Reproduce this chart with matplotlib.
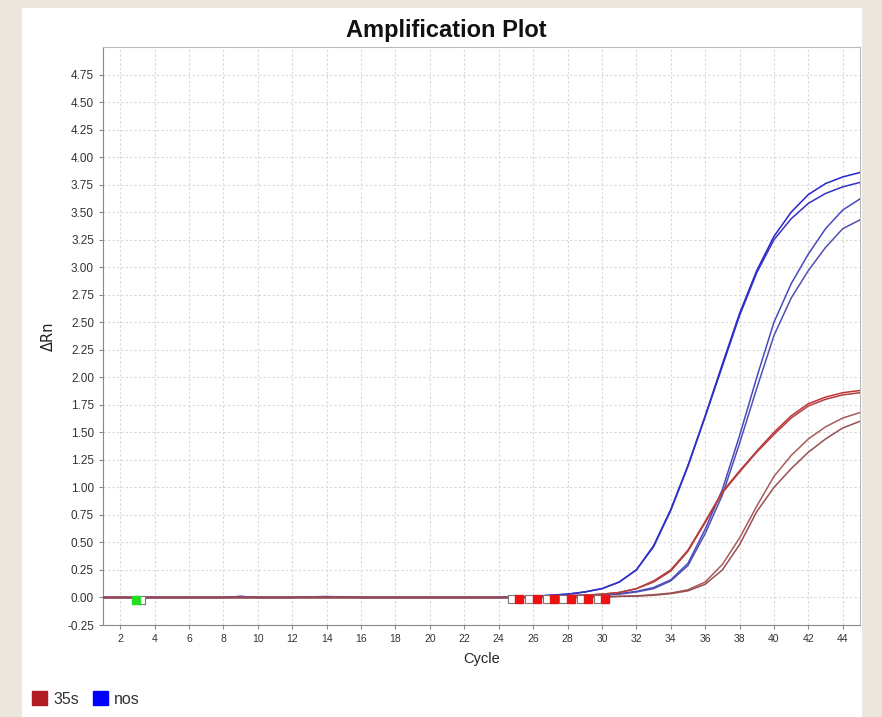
import matplotlib.pyplot as plt
from matplotlib.patches import Rectangle, Patch

plt.rcParams['font.family'] = ['Liberation Sans', 'DejaVu Sans']

# cycle numbers 1..45
cycles = list(range(1, 46))

# nos (blue) curves, delta Rn per cycle
nos_1 = [0.0, 0.0, 0.0, 0.0, 0.0, 0.0, 0.0, 0.0, 0.01, 0.0,
         0.0, 0.0, 0.006, 0.008, 0.006, 0.0, 0.0, 0.0, 0.0, 0.0,
         0.0, 0.0, 0.0, 0.0, 0.005, 0.01, 0.02, 0.03, 0.05, 0.08,
         0.14, 0.25, 0.47, 0.8, 1.2, 1.65, 2.12, 2.58, 2.97, 3.28,
         3.5, 3.66, 3.76, 3.82, 3.86]
nos_2 = [0.0, 0.0, 0.0, 0.0, 0.0, 0.0, 0.0, 0.0, 0.008, 0.0,
         0.0, 0.0, 0.005, 0.007, 0.005, 0.0, 0.0, 0.0, 0.0, 0.0,
         0.0, 0.0, 0.0, 0.0, 0.005, 0.01, 0.02, 0.03, 0.05, 0.08,
         0.14, 0.25, 0.46, 0.79, 1.19, 1.64, 2.1, 2.56, 2.95, 3.25,
         3.44, 3.58, 3.67, 3.73, 3.77]
nos_3 = [0.0, 0.0, 0.0, 0.0, 0.0, 0.0, 0.0, 0.0, 0.0, 0.0,
         0.0, 0.0, 0.0, 0.0, 0.0, 0.0, 0.0, 0.0, 0.0, 0.0,
         0.0, 0.0, 0.0, 0.0, 0.0, 0.005, 0.01, 0.015, 0.02, 0.02,
         0.035, 0.055, 0.09, 0.16, 0.31, 0.62, 0.98, 1.47, 2.0, 2.5,
         2.85, 3.12, 3.35, 3.52, 3.62]
nos_4 = [0.0, 0.0, 0.0, 0.0, 0.0, 0.0, 0.0, 0.0, 0.0, 0.0,
         0.0, 0.0, 0.0, 0.0, 0.0, 0.0, 0.0, 0.0, 0.0, 0.0,
         0.0, 0.0, 0.0, 0.0, 0.0, 0.005, 0.01, 0.015, 0.02, 0.02,
         0.03, 0.05, 0.08, 0.15, 0.29, 0.58, 0.93, 1.4, 1.9, 2.38,
         2.72, 2.97, 3.18, 3.35, 3.43]

# 35s (red) curves
s35_1 = [0.0, 0.0, 0.0, 0.0, 0.0, 0.0, 0.0, 0.0, 0.0, 0.0,
         0.0, 0.0, 0.0, 0.0, 0.0, 0.0, 0.0, 0.0, 0.0, 0.0,
         0.0, 0.0, 0.0, 0.0, 0.0, 0.005, 0.01, 0.015, 0.02, 0.03,
         0.045, 0.08, 0.15, 0.25, 0.43, 0.69, 0.96, 1.15, 1.33, 1.5,
         1.65, 1.76, 1.82, 1.86, 1.88]
s35_2 = [0.0, 0.0, 0.0, 0.0, 0.0, 0.0, 0.0, 0.0, 0.0, 0.0,
         0.0, 0.0, 0.0, 0.0, 0.0, 0.0, 0.0, 0.0, 0.0, 0.0,
         0.0, 0.0, 0.0, 0.0, 0.0, 0.005, 0.01, 0.015, 0.02, 0.03,
         0.045, 0.08, 0.14, 0.24, 0.42, 0.68, 0.95, 1.14, 1.32, 1.48,
         1.63, 1.74, 1.8, 1.84, 1.86]
s35_3 = [0.0, 0.0, 0.0, 0.0, 0.0, 0.0, 0.0, 0.0, 0.0, 0.0,
         0.0, 0.0, 0.0, 0.0, 0.0, 0.0, 0.0, 0.0, 0.0, 0.0,
         0.0, 0.0, 0.0, 0.0, 0.0, 0.0, 0.0, 0.0, 0.0, 0.005,
         0.01, 0.015, 0.025, 0.04, 0.07, 0.14, 0.3, 0.54, 0.83, 1.1,
         1.29, 1.44, 1.55, 1.63, 1.68]
s35_4 = [0.0, 0.0, 0.0, 0.0, 0.0, 0.0, 0.0, 0.0, 0.0, 0.0,
         0.0, 0.0, 0.0, 0.0, 0.0, 0.0, 0.0, 0.0, 0.0, 0.0,
         0.0, 0.0, 0.0, 0.0, 0.0, 0.0, 0.0, 0.0, 0.0, 0.005,
         0.01, 0.012, 0.02, 0.035, 0.06, 0.12, 0.25, 0.48, 0.78, 1.0,
         1.17, 1.32, 1.44, 1.54, 1.6]

nos_curves = [nos_1, nos_2, nos_3, nos_4]
nos_colors = ['#2626cc', '#3232c6', '#4848c0', '#5050b4']
s35_curves = [s35_1, s35_2, s35_3, s35_4]
s35_colors = ['#c03434', '#b04040', '#a85a5a', '#965050']

# baseline start/end markers
green_x = [2.9]
start_white_x = [3.2]
red_x = [25.2, 26.2, 27.2, 28.2, 29.2, 30.2]
white_x = [24.8, 25.75, 26.8, 27.75, 28.8, 29.8]

fig = plt.figure(figsize=(8.82, 7.17), dpi=100, facecolor='#ebe7df')
fig.patches.append(Rectangle((22 / 882, 0), 840 / 882, 709 / 717,
                             transform=fig.transFigure, facecolor='white',
                             edgecolor='none', zorder=-10))

ax = fig.add_axes([103 / 882, 1 - 625 / 717, 757 / 882, 578 / 717])
ax.set_zorder(1)

for vals, c in zip(nos_curves, nos_colors):
    ax.plot(cycles, vals, color=c, lw=1.1, zorder=3)
for vals, c in zip(s35_curves, s35_colors):
    ax.plot(cycles, vals, color=c, lw=1.1, zorder=4)

ax.scatter(white_x, [-0.015] * len(white_x), marker='s', s=30,
           facecolor='white', edgecolor='#777777', lw=0.8, zorder=5)
ax.scatter(red_x, [-0.015] * len(red_x), marker='s', s=38,
           color='#ee1111', zorder=6)
ax.scatter(start_white_x, [-0.02], marker='s', s=30,
           facecolor='white', edgecolor='#777777', lw=0.8, zorder=5)
ax.scatter(green_x, [-0.02], marker='s', s=38, color='#22dd22', zorder=6)

ax.set_xlim(1, 45)
ax.set_ylim(-0.25, 5.0)
ax.set_xticks(range(2, 45, 2))
yt = [i * 0.25 for i in range(-1, 20)]
ax.set_yticks(yt)
ax.set_yticklabels([f'{v:.2f}' for v in yt])

ax.grid(True, color='#d8d8d8', lw=0.8, ls=(0, (2, 2)))
ax.set_axisbelow(True)
for sp in ax.spines.values():
    sp.set_color('#b8b8b8')
ax.spines['bottom'].set_color('#888888')
ax.spines['left'].set_color('#888888')
ax.tick_params(axis='both', colors='#888888', labelcolor='#333333',
               length=3, width=0.8)
ax.tick_params(axis='y', labelsize=8.5)
ax.tick_params(axis='x', labelsize=7.5)

ax.set_xlabel('Cycle', fontsize=10.5, color='#222222', labelpad=6)
ax.set_ylabel('ΔRn', fontsize=10.5, color='#222222', labelpad=8,
              family=['DejaVu Sans'])

fig.text(446 / 882, 1 - 30 / 717, 'Amplification Plot', ha='center',
         va='center', fontsize=17, fontweight='bold', color='#111111')

handles = [Patch(facecolor='#b01c22', edgecolor='#b01c22', label='35s'),
           Patch(facecolor='#0000ff', edgecolor='#0000ff', label='nos')]
fig.legend(handles=handles, loc='center left', ncol=2, frameon=False,
           bbox_to_anchor=(18 / 882, 1 - 699 / 717), fontsize=11.5,
           handlelength=0.9, handleheight=1.0, handletextpad=0.4,
           columnspacing=0.9, labelcolor='#333333')

fig.savefig('out.png', dpi=100, facecolor=fig.get_facecolor())
